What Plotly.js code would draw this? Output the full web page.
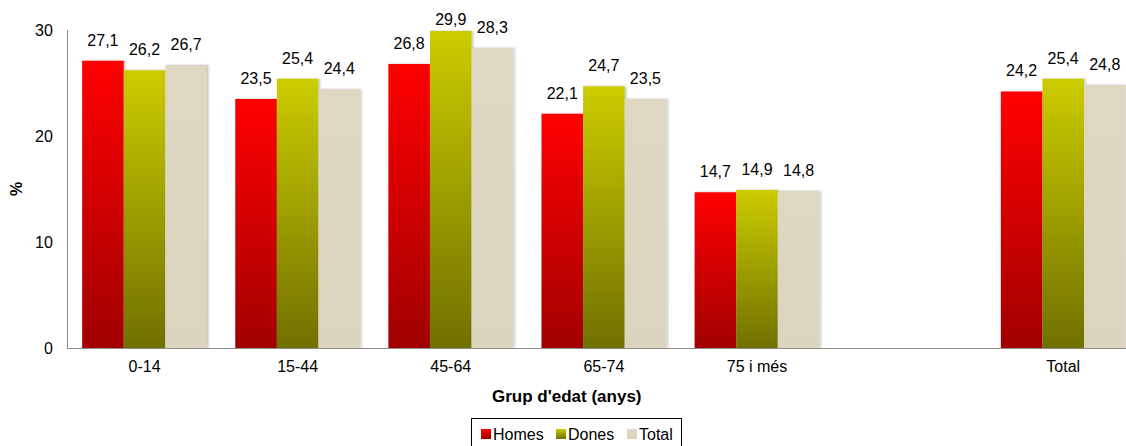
<!DOCTYPE html>
<html>
<head>
<meta charset="utf-8">
<script src="https://cdn.plot.ly/plotly-3.0.1.min.js"></script>
<style>
html,body{margin:0;padding:0;background:#fff;}
#chart{width:1126px;height:446px;}
</style>
</head>
<body>
<div id="chart"></div>
<script>
const categories = ['0-14', '15-44', '45-64', '65-74', '75 i més', ' ', 'Total'];
const homes = [27.1, 23.5, 26.8, 22.1, 14.7, null, 24.2];
const dones = [26.2, 25.4, 29.9, 24.7, 14.9, null, 25.4];
const total = [26.7, 24.4, 28.3, 23.5, 14.8, null, 24.8];
const seriesNames = ['Homes', 'Dones', 'Total'];
const yTicks = [0, 10, 20, 30];

const FONT = 'Liberation Sans, Arial, sans-serif';
const baseColors = ['#e00000', '#a8a800', '#ddd6c0'];
const gradients = [
  ['#ff0000', '#a00000'],
  ['#cccc00', '#707000'],
  ['#ded7c1', '#dbd4be']
];

function mk(name, y, color) {
  return {
    type: 'bar', name: name, x: categories, y: y,
    marker: {color: color, line: {width: 0}},
    texttemplate: '%{y:.1f}', textposition: 'outside', cliponaxis: false,
    textfont: {family: FONT, size: 16, color: '#000'},
    hoverinfo: 'skip'
  };
}

const data = [
  mk(seriesNames[0], homes, baseColors[0]),
  mk(seriesNames[1], dones, baseColors[1]),
  mk(seriesNames[2], total, baseColors[2])
];

const layout = {
  width: 1126, height: 446,
  margin: {l: 68, r: 0, t: 30, b: 98, autoexpand: false},
  paper_bgcolor: '#fff', plot_bgcolor: '#fff',
  separators: ',.',
  barmode: 'group', bargap: 0.185, bargroupgap: 0,
  font: {family: FONT, size: 16, color: '#000'},
  showlegend: true,
  xaxis: {
    type: 'category', range: [-0.5, 6.41],
    showline: true, linecolor: '#8c8c8c', linewidth: 1,
    showgrid: false, zeroline: false, ticks: '', ticklabelstandoff: 4,
    tickfont: {family: FONT, size: 16, color: '#000'},
    fixedrange: true
  },
  yaxis: {
    range: [0, 30], tickvals: yTicks, ticktext: yTicks.map(String),
    showline: true, linecolor: '#8c8c8c', linewidth: 1,
    showgrid: false, zeroline: false, ticks: '', ticklabelstandoff: 11,
    tickfont: {family: FONT, size: 16, color: '#000'},
    title: {text: '<b>%</b>', font: {family: FONT, size: 16, color: '#000'}, standoff: 8},
    fixedrange: true
  },
  legend: {
    orientation: 'h', x: 0.48, xanchor: 'center', y: -0.22, yanchor: 'top',
    bordercolor: '#000', borderwidth: 1, bgcolor: '#fff',
    font: {family: FONT, size: 16, color: '#000'},
    itemwidth: 30, tracegroupgap: 0
  },
  annotations: [{
    text: "<b>Grup d'edat (anys)</b>", xref: 'paper', yref: 'paper',
    x: 0.4716, y: -0.154, xanchor: 'center', yanchor: 'middle',
    showarrow: false, font: {family: FONT, size: 17, color: '#000'}
  }]
};

// legend item layout within the box (px, relative to box left edge)
const legendBox = {left: 471, top: 418, width: 210, height: 34};
const legendSymX = [15, 90, 161];
const legendTextX = [22, 97, 168];
const labelLift = 9;      // extra gap between bar top and its value label
const labelMinTop = 13;   // labels are kept below this page y

function applyStyling(gd) {
  const svg = gd.querySelector('.main-svg');
  if (!svg) return;
  const NS = 'http://www.w3.org/2000/svg';
  let defs = svg.querySelector('defs#customdefs');
  if (!defs) {
    defs = document.createElementNS(NS, 'defs');
    defs.setAttribute('id', 'customdefs');
    svg.insertBefore(defs, svg.firstChild);
    gradients.forEach((g, i) => {
      const lg = document.createElementNS(NS, 'linearGradient');
      lg.setAttribute('id', 'grad' + i);
      lg.setAttribute('x1', '0'); lg.setAttribute('y1', '0');
      lg.setAttribute('x2', '0'); lg.setAttribute('y2', '1');
      [[0, g[0]], [1, g[1]]].forEach(([o, c]) => {
        const s = document.createElementNS(NS, 'stop');
        s.setAttribute('offset', o);
        s.setAttribute('stop-color', c);
        lg.appendChild(s);
      });
      defs.appendChild(lg);
    });
    const f = document.createElementNS(NS, 'filter');
    f.setAttribute('id', 'barshadow');
    f.setAttribute('x', '-10%'); f.setAttribute('y', '-10%');
    f.setAttribute('width', '130%'); f.setAttribute('height', '120%');
    const ds = document.createElementNS(NS, 'feDropShadow');
    ds.setAttribute('dx', '1.5'); ds.setAttribute('dy', '0');
    ds.setAttribute('stdDeviation', '1.2');
    ds.setAttribute('flood-color', '#000');
    ds.setAttribute('flood-opacity', '0.25');
    f.appendChild(ds);
    defs.appendChild(f);
  }
  const svgTop = svg.getBoundingClientRect().top;
  gd.querySelectorAll('.barlayer .trace').forEach((t, i) => {
    t.querySelectorAll('.point path').forEach(p => {
      p.style.fill = 'url(#grad' + i + ')';
      p.style.filter = 'url(#barshadow)';
    });
    t.querySelectorAll('.point text').forEach(tx => {
      const tr = tx.getAttribute('transform') || '';
      const top = tx.getBoundingClientRect().top - svgTop;
      let lift = labelLift;
      if (top - lift < labelMinTop) lift = Math.max(0, top - labelMinTop);
      tx.setAttribute('transform', 'translate(0,' + (-lift) + ') ' + tr);
    });
  });
  // compact legend like the original
  const leg = gd.querySelector('.legend');
  if (leg) {
    leg.setAttribute('transform', 'translate(' + legendBox.left + ',' + legendBox.top + ')');
    const bg = leg.querySelector('rect.bg');
    if (bg) {
      bg.setAttribute('width', legendBox.width);
      bg.setAttribute('height', legendBox.height);
      bg.setAttribute('x', 0.5); bg.setAttribute('y', 0.5);
    }
    const sb = leg.querySelector('.scrollbox');
    if (sb) sb.setAttribute('transform', 'translate(0,0)');
    leg.querySelectorAll('.traces').forEach((t, i) => {
      t.setAttribute('transform', 'translate(0,16)');
      t.querySelectorAll('.legendpoints path').forEach(p => {
        p.setAttribute('d', 'M5,5H-5V-5H5Z');
        p.setAttribute('transform', 'translate(' + legendSymX[i] + ',0)');
        p.style.fill = 'url(#grad' + i + ')';
        p.style.stroke = 'none';
      });
      const txt = t.querySelector('text.legendtext');
      if (txt) txt.setAttribute('x', legendTextX[i]);
    });
  }
  svg.querySelectorAll('[clip-path]').forEach(el => {
    if (el.closest && el.closest('.legend')) el.removeAttribute('clip-path');
  });
}

const gd = document.getElementById('chart');
Plotly.newPlot(gd, data, layout, {displayModeBar: false, staticPlot: true}).then(() => {
  applyStyling(gd);
});
</script>
</body>
</html>
